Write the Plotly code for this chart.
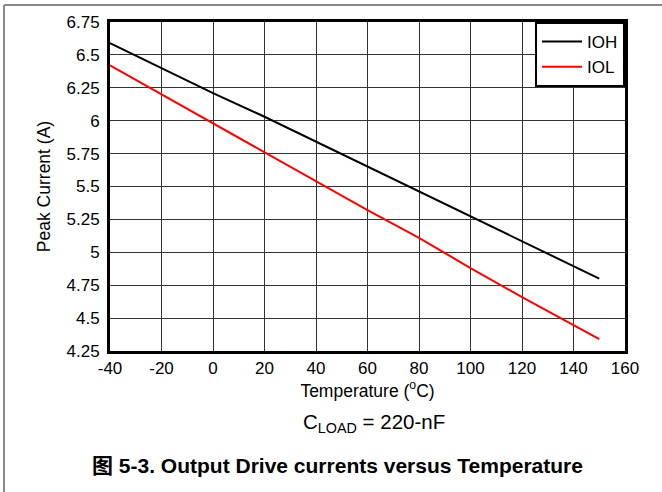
import plotly.graph_objects as go

temperature = [-40, -20, 0, 20, 40, 60, 80, 100, 120, 140, 150]
ioh = [6.59, 6.40, 6.21, 6.03, 5.84, 5.65, 5.46, 5.27, 5.08, 4.89, 4.80]
iol = [6.42, 6.20, 5.98, 5.76, 5.54, 5.32, 5.11, 4.88, 4.66, 4.45, 4.34]

x_ticks = [-40, -20, 0, 20, 40, 60, 80, 100, 120, 140, 160]
x_tick_labels = ["-40", "-20", "0", "20", "40", "60", "80", "100", "120", "140", "160"]
y_ticks = [4.25, 4.5, 4.75, 5, 5.25, 5.5, 5.75, 6, 6.25, 6.5, 6.75]
y_tick_labels = ["4.25", "4.5", "4.75", "5", "5.25", "5.5", "5.75", "6", "6.25", "6.5", "6.75"]

FONT = "Liberation Sans, Arial, sans-serif"

fig = go.Figure()
fig.add_trace(go.Scatter(x=temperature, y=ioh, mode="lines", name="IOH",
                         line=dict(color="black", width=2)))
fig.add_trace(go.Scatter(x=temperature, y=iol, mode="lines", name="IOL",
                         line=dict(color="#ff0000", width=2)))

W, H = 662, 492
L, R, T, B = 110, 37, 22, 141
pw, ph = W - L - R, H - T - B

def px(xp):
    return (xp - L) / pw

def py(yp):
    return 1 - (yp - T) / ph

fig.update_layout(
    width=W, height=H,
    margin=dict(l=L, r=R, t=T, b=B),
    paper_bgcolor="white", plot_bgcolor="white",
    font=dict(family=FONT, color="black", size=17),
    showlegend=True,
    legend=dict(x=1, y=1, xanchor="right", yanchor="top",
                bgcolor="white", bordercolor="black", borderwidth=2,
                font=dict(size=17, family=FONT), tracegroupgap=0,
                itemwidth=40),
    xaxis=dict(range=[-40, 160], tickvals=x_ticks, ticktext=x_tick_labels,
               showgrid=True, gridcolor="#333", gridwidth=1, showline=True,
               linecolor="black", linewidth=3, mirror=True, ticks="",
               zeroline=False, tickfont=dict(size=17),
               title=dict(text="Temperature (<sup>o</sup>C)",
                          font=dict(size=17.5), standoff=0)),
    yaxis=dict(range=[4.25, 6.75], tickvals=y_ticks, ticktext=y_tick_labels,
               showgrid=True, gridcolor="#333", gridwidth=1, showline=True,
               linecolor="black", linewidth=3, mirror=True, ticks="",
               zeroline=False, tickfont=dict(size=17), ticklabelstandoff=4,
               title=dict(text="Peak Current (A)", font=dict(size=17.5), standoff=12)),
    shapes=[
        dict(type="line", xref="paper", yref="paper", x0=px(4), x1=px(4),
             y0=py(5), y1=py(500), line=dict(color="#888", width=2)),
        dict(type="line", xref="paper", yref="paper", x0=px(4), x1=px(670),
             y0=py(5), y1=py(5), line=dict(color="#888", width=2)),
    ],
    annotations=[
        dict(text="C<sub>LOAD</sub> = 220-nF", xref="paper", yref="paper",
             x=px(374), y=py(423), xanchor="center", yanchor="middle",
             showarrow=False, font=dict(size=20.5, family=FONT)),
        dict(text="<b>图 5-3. Output Drive currents versus Temperature</b>",
             xref="paper", yref="paper", x=px(337), y=py(465),
             xanchor="center", yanchor="middle", showarrow=False,
             font=dict(size=21, family="Liberation Sans, Noto Sans CJK SC, sans-serif")),
    ],
)

fig.write_html("out.html")
